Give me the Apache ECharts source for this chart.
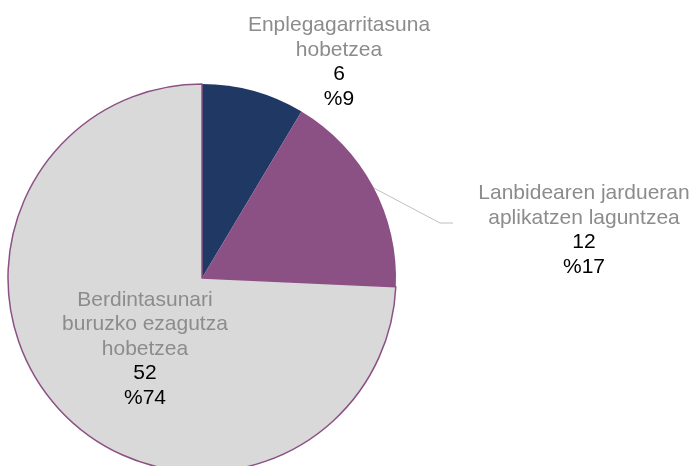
<!DOCTYPE html>
<html>
<head>
<meta charset="utf-8">
<script src="https://cdn.jsdelivr.net/npm/echarts@6/dist/echarts.min.js"></script>
<style>html,body{margin:0;padding:0;background:#fff;}#c{width:694px;height:466px;}</style>
</head>
<body>
<div id="c"></div>
<script>
var categories = ['Enplegagarritasuna\nhobetzea', 'Lanbidearen jardueran\naplikatzen laguntzea', 'Berdintasunari\nburuzko ezagutza\nhobetzea'];
var values = [6, 12, 52];
var colors = ['#1F3864', '#8B5084', '#D9D9D9'];

var labelPos = [
  {x: 339, y: 62},
  {x: 584, y: 230, line: [[372, 187], [440, 223], [453, 223]]},
  {x: 145, y: 349}
];

var chart = echarts.init(document.getElementById('c'));
var data = categories.map(function (n, i) {
  var item = {name: n, value: values[i], itemStyle: {color: colors[i]}};
  if (i === 2) {
    item.itemStyle.borderColor = '#8B5084';
    item.itemStyle.borderWidth = 1.5;
    item.label = {position: 'inside'};
  }
  item.labelLine = {show: i === 1};
  return item;
});
chart.setOption({
  animation: false,
  series: [{
    type: 'pie',
    center: [202, 278],
    radius: 194,
    startAngle: 90,
    clockwise: true,
    avoidLabelOverlap: false,
    percentPrecision: 0,
    emphasis: {disabled: true},
    data: data,
    label: {
      show: true,
      position: 'outside',
      formatter: '{n|{b}}\n{v|{c}}\n{v|%{d}}',
      align: 'center',
      rich: {
        n: {fontFamily: 'Liberation Sans, Arial', fontSize: 21, color: '#8C8C8C', lineHeight: 24.5, align: 'center'},
        v: {fontFamily: 'Liberation Sans, Arial', fontSize: 21, color: '#000000', lineHeight: 24.5, align: 'center'}
      }
    },
    labelLine: {lineStyle: {color: '#BFBFBF', width: 1}},
    labelLayout: function (p) {
      var lp = labelPos[p.dataIndex];
      var r = {x: lp.x, y: lp.y, align: 'center', verticalAlign: 'middle', hideOverlap: false, moveOverlap: false};
      if (lp.line) r.labelLinePoints = lp.line;
      return r;
    }
  }]
});
</script>
</body>
</html>
